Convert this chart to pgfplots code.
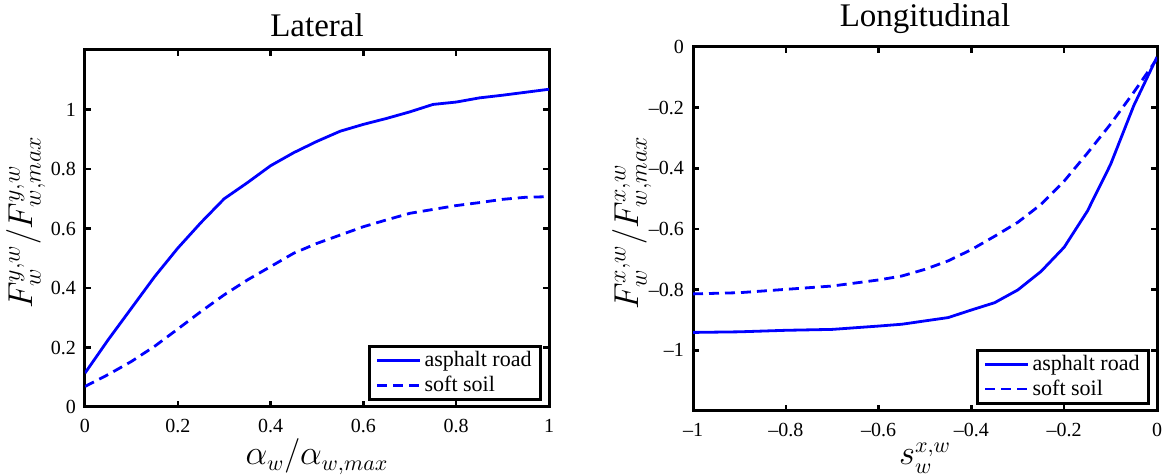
\documentclass[border=0pt]{standalone}
\usepackage{fontspec}
\setmainfont{Liberation Serif}
\usepackage{pgfplots}
\pgfplotsset{compat=1.18}
\definecolor{mblue}{RGB}{0,0,255}
\pgfplotsset{
  mystyle/.style={
    scale only axis,
    width=232pt,
    axis line style={line width=1.5pt},
    every tick/.style={black, line width=1.2pt},
    major tick length=3pt,
    tick align=inside,
    ticklabel style={font=\fontsize{10}{12}\selectfont},
    xticklabel style={yshift=-2.5pt},
    yticklabel style={xshift=-1pt},
    title style={font=\fontsize{16.5}{19}\selectfont, yshift=-3pt},
    xlabel style={font=\fontsize{16}{19}\selectfont},
    ylabel style={font=\fontsize{17.5}{20}\selectfont},
    legend cell align=left,
    legend image code/.code={\draw[##1] (0pt,0pt) -- (21.5pt,0pt);},
    legend style={at={(0.985,0.017)}, anchor=south east, draw=black, line width=1.5pt,
      font=\fontsize{11}{13}\selectfont, inner xsep=3pt, inner ysep=1pt, row sep=0pt,
      nodes={inner xsep=1.5pt, inner ysep=1.5pt},
      /tikz/every even column/.append style={column sep=1pt}},
  },
  solidl/.style={mblue, line width=1.4pt},
  dashl/.style={mblue, line width=1.4pt, dash pattern=on 5pt off 3pt},
}
\begin{document}
\begin{tikzpicture}
\useasboundingbox (0,0) rectangle (584pt,237.5pt);
\begin{axis}[mystyle,
  at={(42.5pt,34pt)}, anchor=south west, height=178.5pt,
  xmin=0, xmax=1, ymin=0, ymax=1.2,
  xtick={0,0.2,0.4,0.6,0.8,1}, xticklabels={0,0.2,0.4,0.6,0.8,1},
  ytick={0,0.2,0.4,0.6,0.8,1}, yticklabels={0,0.2,0.4,0.6,0.8,1},
  title={Lateral},
  xlabel={$\alpha_w/\alpha_{w,max}$},
  ylabel={$F^{y,w}_w/F^{y,w}_{w,max}$},
  xlabel style={at={(axis description cs:0.5,0)}, anchor=base, yshift=-29pt},
  ylabel style={at={(axis description cs:-0.114,0.517)}, anchor=base},
]
\addplot[solidl] coordinates {
(0,0.114) (0.05,0.226) (0.1,0.332) (0.15,0.438) (0.2,0.534) (0.25,0.62) (0.3,0.70)
(0.35,0.754) (0.4,0.811) (0.45,0.855) (0.5,0.893) (0.55,0.927) (0.6,0.95) (0.65,0.97)
(0.7,0.992) (0.75,1.017) (0.8,1.025) (0.85,1.039) (0.9,1.048) (0.95,1.058) (1,1.068)};
\addlegendentry{asphalt road}
\addplot[dashl] coordinates {
(0,0.069) (0.05,0.109) (0.1,0.153) (0.15,0.204) (0.2,0.262) (0.25,0.321) (0.3,0.377)
(0.35,0.427) (0.4,0.472) (0.45,0.517) (0.5,0.55) (0.55,0.578) (0.6,0.606) (0.65,0.629)
(0.7,0.651) (0.75,0.664) (0.8,0.677) (0.85,0.687) (0.9,0.698) (0.95,0.705) (1,0.707)};
\addlegendentry{soft soil}
\end{axis}
\begin{axis}[mystyle,
  at={(346.5pt,32pt)}, anchor=south west, height=182pt,
  xmin=-1, xmax=0, ymin=-1.2, ymax=0,
  xtick={-1,-0.8,-0.6,-0.4,-0.2,0},
  xticklabels={\textendash1,\textendash0.8,\textendash0.6,\textendash0.4,\textendash0.2,0},
  ytick={-1,-0.8,-0.6,-0.4,-0.2,0},
  yticklabels={\textendash1,\textendash0.8,\textendash0.6,\textendash0.4,\textendash0.2,0},
  title={Longitudinal},
  xlabel={$s^{x,w}_w$},
  ylabel={$F^{x,w}_w/F^{x,w}_{w,max}$},
  xlabel style={at={(axis description cs:0.5,0)}, anchor=base, yshift=-27pt},
  ylabel style={at={(axis description cs:-0.1185,0.517)}, anchor=base},
]
\addplot[solidl] coordinates {
(-1,-0.941) (-0.9,-0.939) (-0.8,-0.934) (-0.7,-0.931) (-0.6,-0.92) (-0.55,-0.914)
(-0.5,-0.903) (-0.45,-0.892) (-0.4,-0.867) (-0.35,-0.843) (-0.3,-0.801) (-0.25,-0.74)
(-0.2,-0.66) (-0.15,-0.541) (-0.1,-0.387) (-0.05,-0.193) (0,-0.033)};
\addlegendentry{asphalt road}
\addplot[dashl] coordinates {
(-1,-0.814) (-0.9,-0.81) (-0.8,-0.799) (-0.7,-0.788) (-0.6,-0.768) (-0.55,-0.755)
(-0.5,-0.733) (-0.45,-0.705) (-0.4,-0.668) (-0.35,-0.624) (-0.3,-0.578) (-0.25,-0.519)
(-0.2,-0.442) (-0.15,-0.35) (-0.1,-0.254) (-0.05,-0.149) (0,-0.039)};
\addlegendentry{soft soil}
\end{axis}
\end{tikzpicture}
\end{document}
